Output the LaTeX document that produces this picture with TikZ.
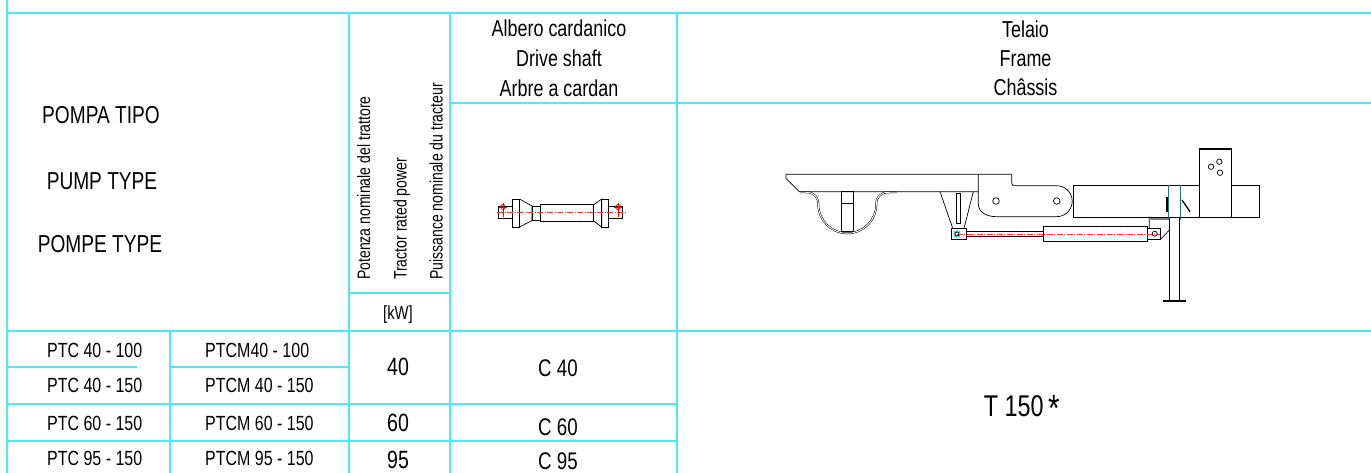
\documentclass[tikz,border=0pt]{standalone}
\usepackage{fontspec}
\setmainfont{Liberation Sans}[FakeStretch=0.78]
\definecolor{gridcyan}{RGB}{80,232,242}
\definecolor{clampteal}{RGB}{40,120,120}
\begin{document}
\begin{tikzpicture}
  [x=1pt,y=-1pt,every node/.style={inner sep=0pt,anchor=base},
   gridline/.style={gridcyan,line width=1.5pt},
   part/.style={black,line width=0.7pt},
   centreline/.style={red!80,line width=0.6pt,dash pattern=on 6pt off 1.5pt on 1pt off 1.5pt},
   bigtxt/.style={font=\fontsize{24.5}{28}\selectfont},
   headtxt/.style={font=\fontsize{23}{27}\selectfont},
   celltxt/.style={anchor=base west,font=\fontsize{20.5}{24}\selectfont},
   numtxt/.style={font=\fontsize{25}{29}\selectfont},
   vtext/.style={rotate=90,anchor=base west,font=\fontsize{18}{21}\selectfont}]
  \useasboundingbox (0,0) rectangle (1371,473);

  % table
  \foreach \xa/\ya/\xb/\yb in {7/0/7/473,7/13/1371/13,349/13/349/473,450/13/450/473,
      677/13/677/473,170/331/170/473,349/293/450/293,450/103/1371/103,7/331/1371/331,
      7/367/137/367,170/367/349/367,7/404/677/404,7/441/677/441}
    \draw[gridline] (\xa,\ya) -- (\xb,\yb);

  \node (pompa)[bigtxt] at (101,123.3) {POMPA TIPO};
  \node (pump)[bigtxt] at (102,189.3) {PUMP TYPE};
  \node (pompe)[bigtxt] at (100,252.3) {POMPE TYPE};

  \node (potenza)[vtext] at (370,280) {Potenza nominale del trattore};
  \node (rated)[vtext] at (406.5,280) {Tractor rated power};
  \node (puissance)[vtext] at (442.5,280) {Puissance nominale du tracteur};
  \node (kw)[font=\fontsize{19}{22}\selectfont] at (398,319) {[kW]};

  \node (albero)[headtxt] at (559,37) {Albero cardanico};
  \node (drive)[headtxt] at (559,66.7) {Drive shaft};
  \node (arbre)[headtxt] at (559,96.5) {Arbre a cardan};
  \node (telaio)[headtxt] at (1025.5,37.5) {Telaio};
  \node (frame)[headtxt] at (1025.5,66.7) {Frame};
  \node (chassis)[headtxt] at (1025.5,96) {Châssis};

  \foreach \y/\a/\b [count=\i] in {357.3/PTC 40 - 100/PTCM40 - 100,392.7/PTC 40 - 150/PTCM 40 - 150,
      430/PTC 60 - 150/PTCM 60 - 150,465/PTC 95 - 150/PTCM 95 - 150}
  {
    \node (ptc\i)[celltxt] at (47,\y) {\a};
    \node (ptcm\i)[celltxt] at (205,\y) {\b};
  }

  \node (kw40)[numtxt] at (398,375) {40};
  \node (kw60)[numtxt] at (398,431.7) {60};
  \node (kw95)[numtxt] at (398,468.3) {95};
  \node (c40)[numtxt,font=\fontsize{24}{28}\selectfont] at (558,376.7) {C 40};
  \node (c60)[numtxt,font=\fontsize{24}{28}\selectfont] at (558,435) {C 60};
  \node (c95)[numtxt,font=\fontsize{24}{28}\selectfont] at (558,469) {C 95};
  \node (t150)[font=\fontsize{30}{34}\selectfont] at (1022,416)
    {T 150\,\raisebox{-5pt}{\fontsize{38}{38}\selectfont *}};

  % drive shaft
  \draw[part] (498,206) rectangle (512,218);
  \draw[part] (512,199) rectangle (519.5,227);
  \draw[part] (519.5,199) -- (532,206) -- (532,220.5) -- (519.5,227);
  \draw[part] (532,206) rectangle (540,220);
  \draw[part] (540,204) rectangle (593.3,221.7);
  \draw[part] (593.3,205) -- (601.7,199) -- (601.7,227) -- (593.3,220.7);
  \draw[part] (601.7,199) rectangle (608.3,227);
  \draw[part] (608.3,206) rectangle (622.7,218);
  \draw[centreline] (497,212.7) -- (627,212.7);
  \foreach \x in {503,618}
  {
    \draw[red,line width=0.8pt] (\x,207) circle (2.5);
    \draw[red,line width=0.5pt] (\x,203) -- (\x,217) (\x-4,207) -- (\x+4,207);
  }

  % frame
  \draw[part] (1011.7,174.3) -- (786,174.3) -- (786,178.3) -- (799.3,191.7) -- (978.3,191.7);
  \draw[part,double,line width=0.5pt,double distance=0.9pt] (800,192.3) -- (806,192.3)
    .. controls (814,192.3) and (818.3,197) .. (818.3,204.3)
    arc[start angle=180,end angle=0,radius=29]
    .. controls (876.3,197) and (880.6,192.3) .. (889,192.3) -- (896.7,192.3);
  \draw[part] (841.7,191.7) rectangle (853.3,231.7) (841.7,203.3) -- (853.3,203.3);
  \draw[part] (940,191.7) -- (952.7,228.3) (973.3,191.7) -- (964,228.3);
  \draw[part] (956.7,193.3) rectangle (960,223.3);
  \draw[part] (1011.7,174.3) -- (1011.7,180) .. controls (1011.7,185.7) .. (1017.5,185.7)
    -- (1056.7,185.7) arc[start angle=-90,end angle=90,radius=15.5] -- (996.7,216.7)
    .. controls (986,216.7) and (978.3,212) .. (978.3,204) -- (978.3,174.3);
  \draw[part] (996,201) circle (3.3) (1056.7,201) circle (3.3);
  \draw[part] (1073.3,185) rectangle (1259.3,217);
  \draw[part,fill=white] (1199.3,148.3) rectangle (1231.7,217);
  \draw[black,line width=1.6pt] (1199.3,149.6) -- (1231.7,149.6);
  \draw[part] (1211,166.7) circle (2.7) (1219.3,161.7) circle (2.7) (1220,172.7) circle (2.7);

  % cylinder
  \draw[part] (951.7,228.3) rectangle (966.7,239.3);
  \draw[part] (966.7,231) rectangle (1043.3,236.7);
  \draw[part] (1043.3,226.7) rectangle (1147.3,241.3);
  \draw[part] (1147.3,228) rectangle (1160.7,239.3);
  \draw[centreline] (956.7,234) -- (1160,234);
  \draw[gridcyan!70!teal,line width=1pt] (957,234) circle (3.3);
  \draw[part] (957,234) circle (2) (1154.7,233.7) circle (2.5);
  \draw[part] (1149.3,216.7) -- (1149.3,228) (1169.3,230) -- (1160.7,239.3);
  \draw[black!50,line width=1.5pt] (1149.3,219) -- (1169.3,219);

  % jack
  \draw[part] (1169.3,217) -- (1169.3,300.7) (1179.3,217) -- (1179.3,300.7);
  \draw[black,line width=1.6pt] (1163.3,301) -- (1186,301);
  \draw[clampteal,line width=0.9pt] (1168.3,185) -- (1168.3,220) (1180.7,185) -- (1180.7,220);
  \fill[black] (1166,197.3) rectangle (1168.3,211.7);
  \draw[black,line width=1.3pt] (1182,200) -- (1190,211.7);
\end{tikzpicture}
\end{document}
